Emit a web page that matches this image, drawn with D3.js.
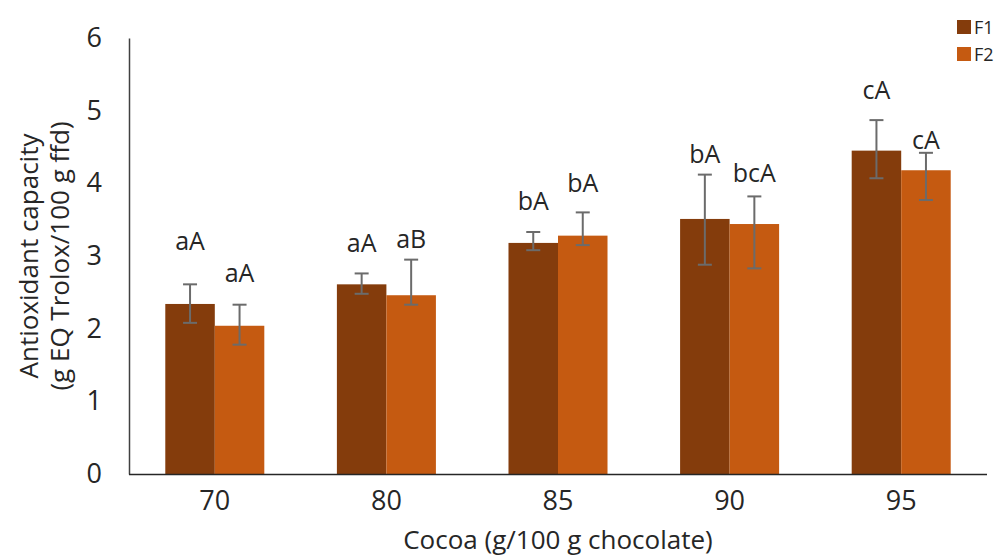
<!DOCTYPE html>
<html>
<head>
<meta charset="utf-8">
<script src="https://cdn.jsdelivr.net/npm/d3@7"></script>
<style>
  html, body { margin: 0; padding: 0; background: #fff; }
  svg text { font-family: "Open Sans", "Noto Sans", sans-serif; fill: #262626; }
</style>
</head>
<body>
<svg id="chart" width="998" height="557"></svg>
<script>
// ---- data ----
const categories = ["70", "80", "85", "90", "95"];
const seriesNames = ["F1", "F2"];
const f1Values = [2.34, 2.61, 3.18, 3.51, 4.45];
const f2Values = [2.04, 2.46, 3.28, 3.44, 4.18];
const f1ErrUp = [0.27, 0.15, 0.15, 0.61, 0.42];
const f1ErrDown = [0.26, 0.13, 0.10, 0.63, 0.38];
const f2ErrUp = [0.29, 0.49, 0.32, 0.38, 0.24];
const f2ErrDown = [0.26, 0.13, 0.13, 0.61, 0.41];
const f1Letters = ["aA", "aA", "bA", "bA", "cA"];
const f2Letters = ["aA", "aB", "bA", "bcA", "cA"];
const f1LetterAt = [3.22, 3.19, 3.77, 4.42, 5.30];
const f2LetterAt = [2.78, 3.25, 4.02, 4.16, 4.61];
const yTicks = [0, 1, 2, 3, 4, 5, 6];
const colors = ["#843C0C", "#C55A11"];

// ---- layout ----
const svg = d3.select("#chart");
const x0 = 129, x1 = 987, yTop = 38, yBot = 474;

const x = d3.scaleBand().domain(categories).range([x0, x1])
  .paddingInner(0.423).paddingOuter(0.2115);
const xs = d3.scaleBand().domain(seriesNames).range([0, x.bandwidth()]).padding(0);
const y = d3.scaleLinear().domain([0, 6]).range([yBot, yTop]);

const series = [
  { name: "F1", values: f1Values, up: f1ErrUp, down: f1ErrDown, letters: f1Letters, at: f1LetterAt, color: colors[0] },
  { name: "F2", values: f2Values, up: f2ErrUp, down: f2ErrDown, letters: f2Letters, at: f2LetterAt, color: colors[1] }
];

// bars
series.forEach(s => {
  const g = svg.append("g");
  g.selectAll("rect").data(categories).join("rect")
    .attr("x", c => x(c) + xs(s.name))
    .attr("width", xs.bandwidth())
    .attr("y", (c, i) => y(s.values[i]))
    .attr("height", (c, i) => y(0) - y(s.values[i]))
    .attr("fill", s.color);
});

// error bars
series.forEach(s => {
  const g = svg.append("g").attr("stroke", "#6b6b6b").attr("stroke-width", 2).attr("fill", "none");
  categories.forEach((c, i) => {
    const cx = x(c) + xs(s.name) + xs.bandwidth() / 2;
    const hi = y(s.values[i] + s.up[i]);
    const lo = y(s.values[i] - s.down[i]);
    g.append("line").attr("x1", cx).attr("x2", cx).attr("y1", hi).attr("y2", lo);
    g.append("line").attr("x1", cx - 7).attr("x2", cx + 7).attr("y1", hi).attr("y2", hi);
    g.append("line").attr("x1", cx - 7).attr("x2", cx + 7).attr("y1", lo).attr("y2", lo);
  });
});

// letters
series.forEach(s => {
  svg.append("g").selectAll("text").data(categories).join("text")
    .attr("x", c => x(c) + xs(s.name) + xs.bandwidth() / 2)
    .attr("y", (c, i) => y(s.at[i]))
    .attr("text-anchor", "middle")
    .attr("dominant-baseline", "central")
    .attr("font-size", 25)
    .text((c, i) => s.letters[i]);
});

// axes
const yAxis = d3.axisLeft(y).tickValues(yTicks).tickFormat(d3.format("d")).tickSize(0).tickPadding(27);
const gy = svg.append("g").attr("transform", `translate(${x0},0)`).call(yAxis);
gy.select(".domain").attr("stroke", "#404040").attr("stroke-width", 1.5);
gy.selectAll("text").attr("font-size", 27).attr("fill", "#262626")
  .style("font-family", '"Open Sans", sans-serif');

const xAxis = d3.axisBottom(x).tickSize(0).tickPadding(17);
const gx = svg.append("g").attr("transform", `translate(0,${yBot})`).call(xAxis);
gx.select(".domain").attr("stroke", "#262626").attr("stroke-width", 1.5).attr("d", `M${x0},0.5H${x1}`);
gx.selectAll("text").attr("font-size", 27).attr("fill", "#262626")
  .style("font-family", '"Open Sans", sans-serif');

// axis titles
svg.append("text")
  .attr("x", 558).attr("y", 549)
  .attr("text-anchor", "middle")
  .attr("font-size", 26)
  .text("Cocoa (g/100 g chocolate)");

const yt = svg.append("text")
  .attr("transform", `translate(29,256) rotate(-90)`)
  .attr("text-anchor", "middle")
  .attr("font-size", 26);
yt.append("tspan").attr("x", 0).attr("dy", "0.35em").text("Antioxidant capacity");
yt.append("tspan").attr("x", 0).attr("dy", "1.2em").text("(g EQ Trolox/100 g ffd)");

// legend
const lg = svg.append("g");
series.forEach((s, i) => {
  lg.append("rect").attr("x", 957).attr("y", 20 + i * 27).attr("width", 14).attr("height", 14).attr("fill", s.color);
  lg.append("text").attr("x", 974).attr("y", 27 + i * 27).attr("dominant-baseline", "central")
    .attr("font-size", 18).attr("fill", "#595959").text(s.name);
});
</script>
</body>
</html>
